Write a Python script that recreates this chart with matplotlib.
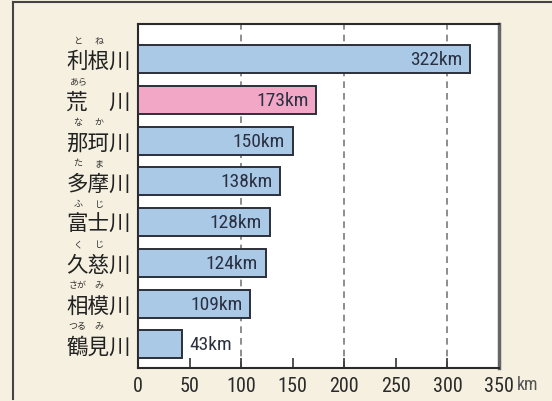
import matplotlib
matplotlib.use("Agg")
import matplotlib.pyplot as plt
import matplotlib.transforms as mtrans
from matplotlib import font_manager as fm

rivers = ["利根川", "荒　川", "那珂川", "多摩川", "富士川", "久慈川", "相模川", "鶴見川"]
lengths = [322, 173, 150, 138, 128, 124, 109, 43]
# furigana: list of (reading, index of kanji it sits over)
furigana = [
    [("と", 0), ("ね", 1)],
    [("あら", 0)],
    [("な", 0), ("か", 1)],
    [("た", 0), ("ま", 1)],
    [("ふ", 0), ("じ", 1)],
    [("く", 0), ("じ", 1)],
    [("さが", 0), ("み", 1)],
    [("つる", 0), ("み", 1)],
]
highlight = "荒　川"
xticks = [0, 50, 100, 150, 200, 250, 300, 350]
unit = "km"

names = {f.name for f in fm.fontManager.ttflist}
cands = ["Liberation Sans Narrow", "Roboto Condensed", "DejaVu Sans Condensed", "Roboto", "Liberation Sans"]
num_font = next((c for c in cands if c in names), "DejaVu Sans")
narrow = num_font in ("Liberation Sans Narrow", "Roboto Condensed", "DejaVu Sans Condensed")
cjk = ["Noto Sans CJK JP", "DejaVu Sans"]

W, H = 552, 402
fig = plt.figure(figsize=(W / 100, H / 100), dpi=100)
bg = "#f5f0e0"
fig.patch.set_facecolor(bg)

ax = fig.add_axes([138 / W, 1 - 369 / H, (499 - 138) / W, (369 - 25) / H])
ax.set_facecolor("white")

ypos = list(range(len(rivers)))
colors = ["#f3a7c6" if r == highlight else "#a9c9e7" for r in rivers]
ax.barh(ypos, lengths, height=0.69, color=colors, edgecolor="#2b2f3a", linewidth=1.4, zorder=3)

ax.set_xlim(0, 350)
ax.set_ylim(len(rivers) - 1 + 0.58, -0.86)

for gx in [100, 200, 300]:
    ax.axvline(gx, color="#7a7a7a", linestyle=(0, (4, 3)), linewidth=1.2, zorder=1)

valfs = 14 if narrow else 12.5
tickfs = 14.5 if narrow else 13
ax.set_xticks(xticks)
ax.set_xticklabels([str(t) for t in xticks], fontsize=tickfs, family=num_font, color="#2a2a2a")
ax.tick_params(axis="x", direction="in", length=7, width=1.2, color="#333333", pad=6)
ax.set_yticks([])

for s in ["left", "bottom", "top"]:
    ax.spines[s].set_color("#2a2a2a")
    ax.spines[s].set_linewidth(1.5)
ax.spines["right"].set_color("#666666")
ax.spines["right"].set_linewidth(2.5)

# value labels
for y, v in zip(ypos, lengths):
    label = f"{v}{unit}"
    if v > 80:
        ax.text(v, y, label, ha="right", va="center", fontsize=valfs, family=num_font,
                color="#2a3040", zorder=4,
                transform=ax.transData + mtrans.ScaledTranslation(-8 / 100, 0, fig.dpi_scale_trans))
    else:
        ax.text(v, y, label, ha="left", va="center", fontsize=valfs, family=num_font,
                color="#2a3040", zorder=4,
                transform=ax.transData + mtrans.ScaledTranslation(7 / 100, 0, fig.dpi_scale_trans))

# unit label after last tick
fig.text(517 / W, 1 - 385 / H, unit, fontsize=tickfs - 1.5, family=num_font,
         color="#555555", ha="left", va="center")

# y labels with furigana
blend = mtrans.blended_transform_factory(fig.transFigure, ax.transData)
x_right = 131
cw = 21.3
for y, r, furi in zip(ypos, rivers, furigana):
    ax.text(x_right / W, y, r, transform=blend + mtrans.ScaledTranslation(0, -2 / 100, fig.dpi_scale_trans),
            ha="right", va="center", fontsize=15.5, family=cjk, color="#222222")
    n = len(r)
    for reading, idx in furi:
        cx = x_right - (n - idx - 0.5) * cw
        ax.text(cx / W, y, reading, transform=blend + mtrans.ScaledTranslation(0, 19 / 100, fig.dpi_scale_trans),
                ha="center", va="center", fontsize=6.5, family=cjk, color="#333333")

# outer frame lines
fig.add_artist(plt.Line2D([13 / W, 1], [1 - 3 / H, 1 - 3 / H], transform=fig.transFigure,
                          color="#444444", linewidth=1.5))
fig.add_artist(plt.Line2D([13 / W, 13 / W], [1 - 3 / H, 1 - 400 / H], transform=fig.transFigure,
                          color="#444444", linewidth=1.5))

fig.savefig("out.png", dpi=100, facecolor=bg)
